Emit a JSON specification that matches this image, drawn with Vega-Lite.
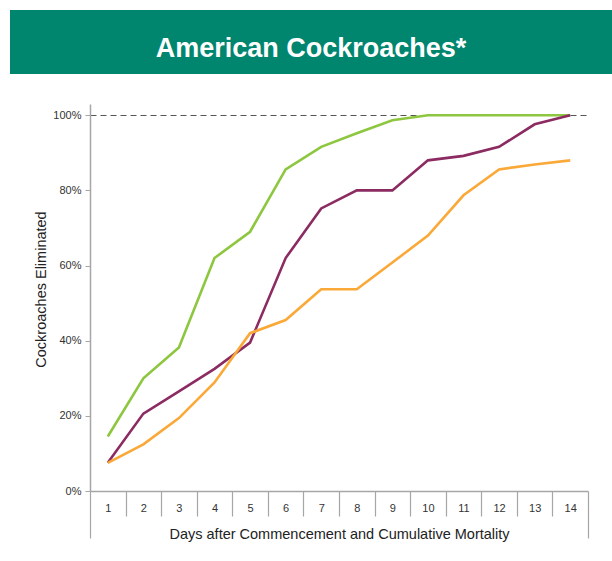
{
  "$schema": "https://vega.github.io/schema/vega-lite/v6.json",
  "background": "white",
  "padding": {"top": 10, "left": 10, "right": 0, "bottom": 19},
  "spacing": 30,
  "config": {"font": "Liberation Sans", "view": {"stroke": null}},
  "datasets": {
    "mortality": [
      {"day": 1, "series": "Series 1", "value": 0.145},
      {"day": 2, "series": "Series 1", "value": 0.30},
      {"day": 3, "series": "Series 1", "value": 0.382},
      {"day": 4, "series": "Series 1", "value": 0.62},
      {"day": 5, "series": "Series 1", "value": 0.69},
      {"day": 6, "series": "Series 1", "value": 0.856},
      {"day": 7, "series": "Series 1", "value": 0.916},
      {"day": 8, "series": "Series 1", "value": 0.952},
      {"day": 9, "series": "Series 1", "value": 0.987},
      {"day": 10, "series": "Series 1", "value": 1.0},
      {"day": 11, "series": "Series 1", "value": 1.0},
      {"day": 12, "series": "Series 1", "value": 1.0},
      {"day": 13, "series": "Series 1", "value": 1.0},
      {"day": 14, "series": "Series 1", "value": 1.0},
      {"day": 1, "series": "Series 2", "value": 0.075},
      {"day": 2, "series": "Series 2", "value": 0.206},
      {"day": 3, "series": "Series 2", "value": 0.265},
      {"day": 4, "series": "Series 2", "value": 0.325},
      {"day": 5, "series": "Series 2", "value": 0.395},
      {"day": 6, "series": "Series 2", "value": 0.62},
      {"day": 7, "series": "Series 2", "value": 0.752},
      {"day": 8, "series": "Series 2", "value": 0.80},
      {"day": 9, "series": "Series 2", "value": 0.80},
      {"day": 10, "series": "Series 2", "value": 0.88},
      {"day": 11, "series": "Series 2", "value": 0.892},
      {"day": 12, "series": "Series 2", "value": 0.916},
      {"day": 13, "series": "Series 2", "value": 0.976},
      {"day": 14, "series": "Series 2", "value": 1.0},
      {"day": 1, "series": "Series 3", "value": 0.075},
      {"day": 2, "series": "Series 3", "value": 0.124},
      {"day": 3, "series": "Series 3", "value": 0.194},
      {"day": 4, "series": "Series 3", "value": 0.289},
      {"day": 5, "series": "Series 3", "value": 0.42},
      {"day": 6, "series": "Series 3", "value": 0.455},
      {"day": 7, "series": "Series 3", "value": 0.537},
      {"day": 8, "series": "Series 3", "value": 0.537},
      {"day": 9, "series": "Series 3", "value": 0.608},
      {"day": 10, "series": "Series 3", "value": 0.68},
      {"day": 11, "series": "Series 3", "value": 0.787},
      {"day": 12, "series": "Series 3", "value": 0.856},
      {"day": 13, "series": "Series 3", "value": 0.869},
      {"day": 14, "series": "Series 3", "value": 0.88}
    ]
  },
  "vconcat": [
    {
      "width": 602,
      "height": 64,
      "view": {"fill": "#00856F", "stroke": null},
      "data": {"values": [{"label": "American Cockroaches*"}]},
      "mark": {"type": "text", "color": "white", "fontSize": 27, "fontWeight": "bold", "baseline": "middle", "dy": 6.5, "font": "Liberation Sans"},
      "encoding": {"text": {"field": "label", "type": "nominal"}}
    },
    {
      "spacing": 0,
      "hconcat": [
        {
          "width": 23,
          "height": 387,
          "view": {"fill": "#ffffff", "stroke": null},
          "data": {"values": []},
          "mark": {"type": "point", "opacity": 0},
          "encoding": {}
        },
        {
          "width": 498,
          "height": 387,
          "data": {"name": "mortality"},
          "layer": [
            {
              "mark": {"type": "line", "strokeWidth": 2.6},
              "encoding": {
                "x": {
                  "field": "day", "type": "quantitative",
                  "scale": {"domain": [0.5, 14.5], "nice": false, "zero": false},
                  "axis": {
                    "orient": "bottom",
                    "values": [1, 2, 3, 4, 5, 6, 7, 8, 9, 10, 11, 12, 13, 14],
                    "format": "d",
                    "ticks": false,
                    "grid": false,
                    "domain": true,
                    "domainColor": "#a6a6a6",
                    "domainWidth": 1.5,
                    "labelFontSize": 11,
                    "labelColor": "#333333",
                    "labelPadding": 11,
                    "labelAngle": 0,
                    "labelFlush": false,
                    "title": "Days after Commencement and Cumulative Mortality",
                    "titleFontSize": 14.5,
                    "titleFontWeight": "normal",
                    "titleColor": "#222222",
                    "titlePadding": 14
                  }
                },
                "y": {
                  "field": "value", "type": "quantitative",
                  "scale": {"domain": [0, 1.03], "nice": false},
                  "axis": {
                    "orient": "left",
                    "values": [0, 0.2, 0.4, 0.6, 0.8, 1],
                    "format": ".0%",
                    "grid": true,
                    "gridColor": "#555555",
                    "gridDash": [6, 4],
                    "gridWidth": 1.2,
                    "gridOpacity": {"condition": {"test": "datum.value == 1", "value": 1}, "value": 0},
                    "domainColor": "#a6a6a6",
                    "domainWidth": 1.5,
                    "tickColor": "#a6a6a6",
                    "tickSize": 5,
                    "labelFontSize": 11,
                    "labelColor": "#333333",
                    "labelPadding": 4,
                    "title": "Cockroaches Eliminated",
                    "titleFontSize": 14.5,
                    "titleFontWeight": "normal",
                    "titleColor": "#222222",
                    "titlePadding": 4,
                    "titleY": 185
                  }
                },
                "color": {
                  "field": "series", "type": "nominal",
                  "scale": {"domain": ["Series 1", "Series 2", "Series 3"], "range": ["#8DC63F", "#8B2B62", "#FAA938"]},
                  "legend": null
                }
              }
            },
            {
              "mark": {"type": "point", "opacity": 0},
              "encoding": {
                "x": {
                  "field": "day", "type": "quantitative",
                  "scale": {"domain": [0.5, 14.5], "nice": false, "zero": false},
                  "axis": {
                    "orient": "bottom",
                    "values": [0.5, 1.5, 2.5, 3.5, 4.5, 5.5, 6.5, 7.5, 8.5, 9.5, 10.5, 11.5, 12.5, 13.5, 14.5],
                    "labels": false,
                    "domain": false,
                    "grid": false,
                    "ticks": true,
                    "tickColor": "#a6a6a6",
                    "tickWidth": 1.2,
                    "tickSize": {"condition": {"test": "datum.value < 1 || datum.value > 14", "value": 47}, "value": 25},
                    "title": null
                  }
                }
              }
            }
          ],
          "resolve": {"axis": {"x": "independent"}}
        }
      ]
    }
  ]
}
